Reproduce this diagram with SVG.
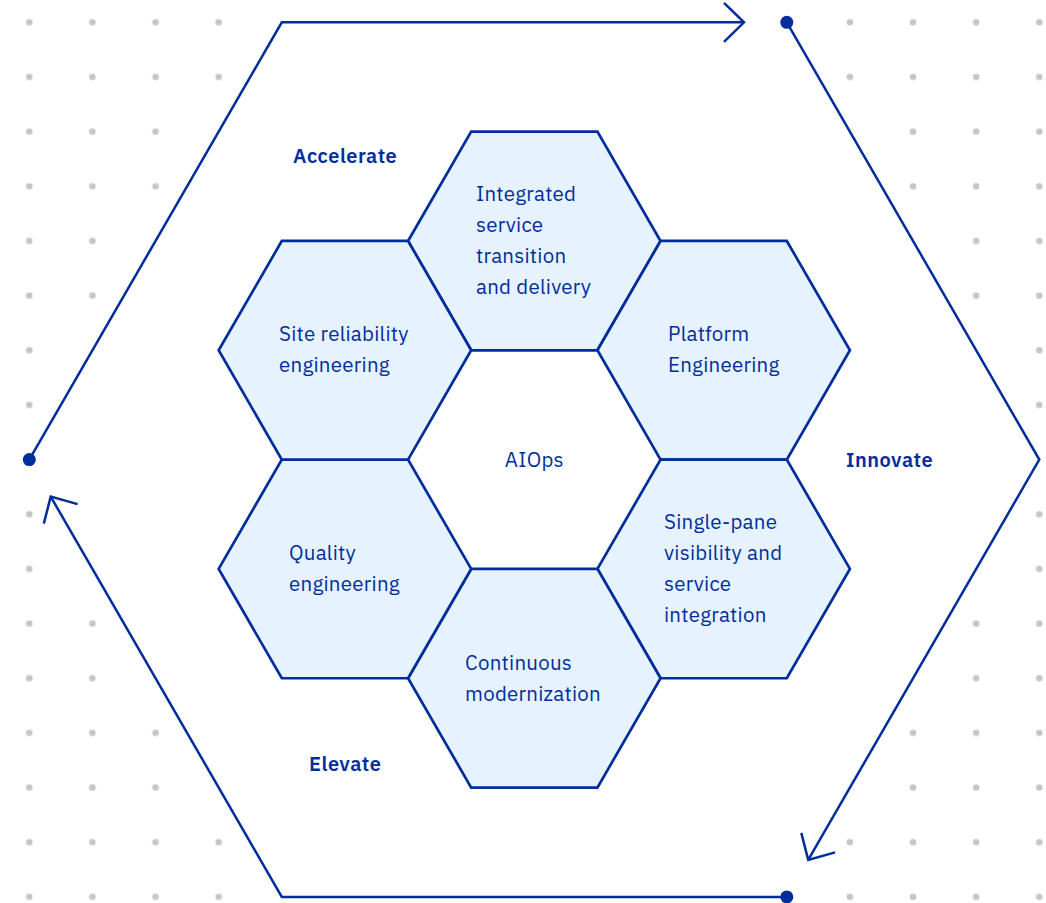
<svg xmlns="http://www.w3.org/2000/svg" width="1046" height="903" viewBox="0 0 1046 903">
<style>
.hex{fill:#e6f3fe;stroke:#002d9c;stroke-width:2.7;stroke-linejoin:miter}
.lbl{font-family:"IBM Plex Sans","Noto Sans","Liberation Sans",sans-serif;font-size:20.5px;letter-spacing:0.25px;fill:#002d9c}
.phase{font-family:"IBM Plex Sans","Noto Sans","Liberation Sans",sans-serif;font-size:20px;font-weight:600;letter-spacing:0.5px;fill:#002d9c}
.flow{fill:none;stroke:#002d9c;stroke-width:2.5;stroke-linejoin:miter}
.start{fill:#002d9c}
</style>
<defs>
<pattern id="dots" patternUnits="userSpaceOnUse" x="-2.2625" y="-5.03" width="63.125" height="54.66">
<circle cx="31.5625" cy="27.33" r="3.3" fill="#c6c6c6"/>
</pattern>
<marker id="chev" markerUnits="userSpaceOnUse" viewBox="-22 -22 26 44" refX="0" refY="0" markerWidth="26" markerHeight="44" orient="auto" overflow="visible">
<path d="M-20,-19.5 L0,0 L-20,19.5" fill="none" stroke="#002d9c" stroke-width="2.5"/>
</marker>
</defs>
<rect width="1046" height="903" fill="#ffffff"/>
<rect width="1046" height="903" fill="url(#dots)"/>
<polygon points="29.3,459.6 281.8,22.3 786.8,22.3 1039.3,459.6 786.8,896.9 281.8,896.9" fill="#ffffff" stroke="#ffffff" stroke-width="10"/>

<g id="connectors">
<path class="flow" d="M29.3,459.6 L281.8,22.3 L744,22.3" marker-end="url(#chev)"/>
<path class="flow" d="M786.8,22.3 L1039.3,459.6 L808.2,859.9" marker-end="url(#chev)"/>
<path class="flow" d="M786.8,896.9 L281.8,896.9 L50.7,496.6" marker-end="url(#chev)"/>
<circle class="start" cx="29.3" cy="459.6" r="6.5"/>
<circle class="start" cx="786.8" cy="22.3" r="6.5"/>
<circle class="start" cx="786.8" cy="896.9" r="6.5"/>
</g>

<g id="phase-accelerate"><text class="phase" x="293" y="163">Accelerate</text></g>
<g id="phase-innovate"><text class="phase" x="846" y="467">Innovate</text></g>
<g id="phase-elevate"><text class="phase" x="309" y="771">Elevate</text></g>

<g id="hex-integrated">
<polygon class="hex" points="408.05,240.96 471.18,131.64 597.43,131.64 660.55,240.96 597.43,350.28 471.18,350.28"/>
<text class="lbl" x="476" y="201">Integrated</text>
<text class="lbl" x="476" y="232">service</text>
<text class="lbl" x="476" y="263">transition</text>
<text class="lbl" x="476" y="294">and delivery</text>
</g>
<g id="hex-platform">
<polygon class="hex" points="597.43,350.28 660.55,240.96 786.8,240.96 849.93,350.28 786.8,459.6 660.55,459.6"/>
<text class="lbl" x="668" y="341">Platform</text>
<text class="lbl" x="668" y="372">Engineering</text>
</g>
<g id="hex-single-pane">
<polygon class="hex" points="597.43,568.92 660.55,459.6 786.8,459.6 849.93,568.92 786.8,678.24 660.55,678.24"/>
<text class="lbl" x="664" y="529">Single-pane</text>
<text class="lbl" x="664" y="560">visibility and</text>
<text class="lbl" x="664" y="591">service</text>
<text class="lbl" x="664" y="622">integration</text>
</g>
<g id="hex-continuous">
<polygon class="hex" points="408.05,678.24 471.18,568.92 597.43,568.92 660.55,678.24 597.43,787.56 471.18,787.56"/>
<text class="lbl" x="465" y="670">Continuous</text>
<text class="lbl" x="465" y="701">modernization</text>
</g>
<g id="hex-quality">
<polygon class="hex" points="218.67,568.92 281.8,459.6 408.05,459.6 471.18,568.92 408.05,678.24 281.8,678.24"/>
<text class="lbl" x="289" y="560">Quality</text>
<text class="lbl" x="289" y="591">engineering</text>
</g>
<g id="hex-sre">
<polygon class="hex" points="218.67,350.28 281.8,240.96 408.05,240.96 471.18,350.28 408.05,459.6 281.8,459.6"/>
<text class="lbl" x="279" y="341">Site reliability</text>
<text class="lbl" x="279" y="372">engineering</text>
</g>
<g id="hex-aiops">
<text class="lbl" x="534.3" y="467" text-anchor="middle">AIOps</text>
</g>
</svg>
